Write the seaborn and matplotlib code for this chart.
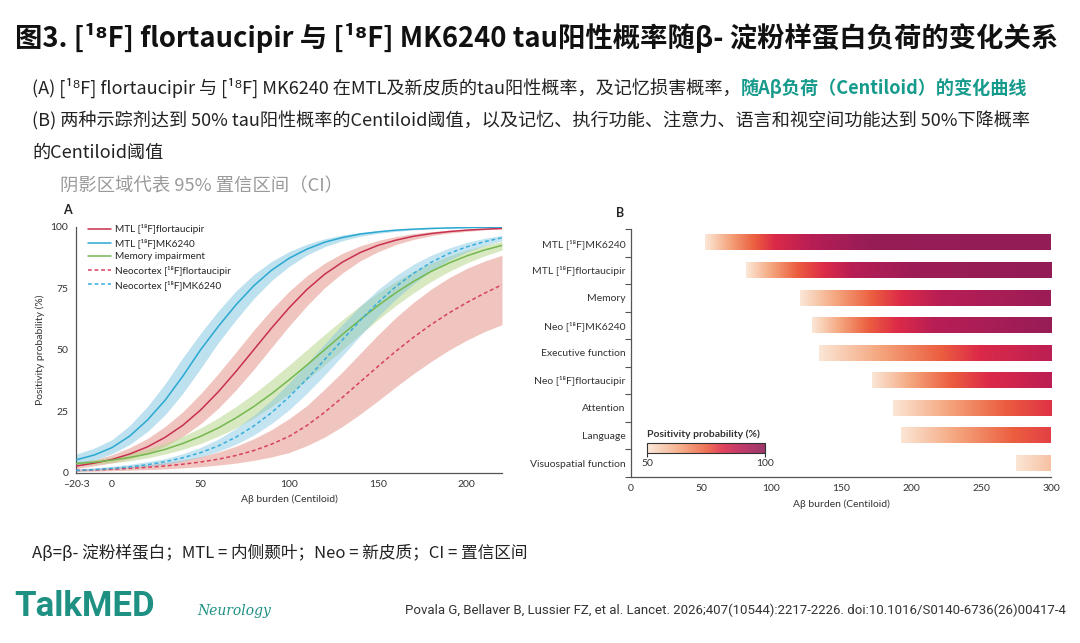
import numpy as np
import pandas as pd
import matplotlib
matplotlib.use("Agg")
import matplotlib.pyplot as plt
import seaborn as sns
from matplotlib.colors import LinearSegmentedColormap, Normalize
from matplotlib.cm import ScalarMappable

# ---------------- data: panel A ----------------
centiloid = [-20.3, -10, 0, 10, 20, 30, 40, 50, 60, 70, 80, 90, 100, 110,
             120, 130, 140, 150, 160, 170, 180, 190, 200, 210, 220]

mtl_mk_mean = [5.2, 7.2, 10.2, 14.9, 21.4, 29.5, 39.3, 50, 59.5, 68.3, 76.0, 82.3, 87.2, 90.9,
               93.7, 95.6, 97.0, 97.9, 98.6, 99.0, 99.3, 99.5, 99.65, 99.75, 99.8]
mtl_mk_hi = [7.5, 10, 13.4, 19.2, 26.9, 36.2, 46.8, 56.7, 65.8, 73.9, 80.6, 85.9, 89.9, 92.9,
             95.1, 96.6, 97.7, 98.4, 98.9, 99.2, 99.45, 99.6, 99.7, 99.8, 99.85]
mtl_mk_lo = [3.4, 5.1, 7.7, 11.5, 16.7, 23.6, 32.3, 42.4, 52.9, 62.2, 70.8, 78.1, 83.9, 88.5,
             91.9, 94.3, 96.1, 97.3, 98.1, 98.7, 99.1, 99.4, 99.55, 99.65, 99.75]

mtl_ft_mean = [2.7, 3.9, 5.4, 7.6, 10.5, 14.4, 19.3, 25.5, 32.9, 41.2, 50, 58.8, 67.1, 74.5,
               80.7, 85.6, 89.5, 92.4, 94.5, 96.1, 97.2, 98.0, 98.6, 99.0, 99.3]
mtl_ft_hi = [4.2, 5.2, 7.3, 10.2, 13.9, 18.8, 24.8, 32.1, 40.3, 49.1, 58.0, 66.3, 73.8, 80.1,
             85.2, 89.2, 92.2, 94.4, 96.0, 97.2, 98.0, 98.6, 99.0, 99.3, 99.5]
mtl_ft_lo = [1.7, 2.8, 4.0, 5.6, 7.8, 10.8, 14.8, 19.9, 26.2, 33.7, 42.0, 50.9, 59.7, 67.9,
             75.2, 81.2, 86.1, 89.8, 92.7, 94.8, 96.3, 97.4, 98.1, 98.7, 99.1]

mem_mean = [3.7, 4.3, 5.1, 6.2, 7.6, 9.5, 11.9, 14.8, 18.2, 22.3, 26.9, 32.1, 37.8, 43.8,
            50, 56.2, 62.2, 67.9, 73.1, 77.7, 81.8, 85.2, 88.1, 90.5, 92.4]
mem_hi = [4.6, 5.3, 6.3, 7.8, 9.7, 11.9, 14.8, 18.2, 22.3, 26.9, 32.1, 37.8, 43.8, 50,
          56.2, 62.2, 67.9, 73.1, 77.7, 81.8, 85.2, 88.1, 90.5, 92.4, 94.0]
mem_lo = [2.9, 3.4, 4.0, 4.8, 6.0, 7.6, 9.5, 11.9, 14.8, 18.2, 22.3, 26.9, 32.1, 37.8,
          43.8, 50, 56.2, 62.2, 67.9, 73.1, 77.7, 81.8, 85.2, 88.1, 90.5]

neo_mk_mean = [0.91, 1.27, 1.74, 2.39, 3.27, 4.46, 6.06, 8.17, 10.9, 14.5, 19.0, 24.4, 30.9, 38.1,
               46.0, 54.0, 61.9, 69.1, 75.6, 81.0, 85.5, 89.1, 91.8, 93.9, 95.5]
neo_mk_hi = [1.5, 2.0, 2.6, 3.4, 4.5, 5.7, 7.7, 10.3, 13.7, 18.0, 23.3, 29.5, 36.6, 44.4,
             52.4, 60.3, 67.7, 74.4, 80.0, 84.7, 88.4, 91.3, 93.6, 95.3, 96.5]
neo_mk_lo = [0.6, 0.9, 1.35, 1.86, 2.55, 3.48, 4.74, 6.43, 8.67, 11.6, 15.3, 20.0, 25.6, 32.3,
             39.7, 47.6, 55.6, 63.4, 70.5, 76.7, 82.0, 86.3, 89.7, 92.3, 94.3]

neo_ft_mean = [0.9, 1.1, 1.4, 1.75, 2.2, 2.75, 3.45, 4.35, 5.5, 7.0, 9.0, 11.6, 14.8, 19.2,
               24.6, 30.6, 36.9, 43.2, 49.3, 55.0, 60.2, 64.9, 69.1, 72.9, 76.4]
neo_ft_hi = [1.5, 1.8, 2.2, 2.7, 3.3, 4.1, 5.2, 6.6, 8.4, 10.8, 13.8, 17.5, 22.0, 27.3,
             34.0, 41.0, 48.5, 56.0, 63.0, 69.2, 74.6, 79.2, 83.0, 86.0, 88.4]
neo_ft_lo = [0.5, 0.6, 0.8, 1.0, 1.25, 1.55, 1.95, 2.45, 3.1, 3.9, 5.0, 6.4, 8.2, 11.0,
             14.5, 18.8, 23.8, 29.2, 34.8, 40.2, 45.2, 49.8, 53.8, 57.3, 60.2]

series_names = ["MTL [¹⁸F]flortaucipir", "MTL [¹⁸F]MK6240", "Memory impairment",
                "Neocortex [¹⁸F]flortaucipir", "Neocortex [¹⁸F]MK6240"]

# ---------------- data: panel B ----------------
b_labels = ["MTL [¹⁸F]MK6240", "MTL [¹⁸F]flortaucipir", "Memory", "Neo [¹⁸F]MK6240",
            "Executive function", "Neo [¹⁸F]flortaucipir", "Attention", "Language",
            "Visuospatial function"]
# centiloid stops along each bar and the positivity probability (%) shown there
b_stop_x = [[53, 70, 88, 102, 128, 170, 300],
            [82, 100, 118, 138, 157, 205, 300],
            [121, 147, 172, 193, 221, 300],
            [129, 149, 169, 190, 216, 300],
            [134, 178, 221, 248, 300],
            [172, 200, 228, 255, 300],
            [187, 227, 266, 300],
            [193, 233, 273, 300],
            [275, 300]]
b_stop_p = [[50, 64, 75, 82, 90, 98, 99],
            [50, 64, 75, 82, 90, 97, 99],
            [50, 64, 75, 82, 90, 97],
            [50, 64, 75, 82, 90, 98],
            [50, 64, 75, 82, 89],
            [50, 64, 75, 82, 89],
            [50, 64, 75, 81],
            [50, 64, 75, 79],
            [50, 58]]

# ---------------- style ----------------
sns.set_theme(style="white")
plt.rcParams["font.family"] = ["Lato", "Noto Sans CJK SC", "DejaVu Sans"]
CJK = ["Noto Sans CJK SC", "DejaVu Sans"]
PANEL = ["Lato", "DejaVu Sans"]

W, H = 1080, 643
fig = plt.figure(figsize=(W / 100, H / 100), dpi=100)
fig.patch.set_facecolor("white")


def fy(py):
    return 1 - py / H


def fx(px):
    return px / W


# ---------------- header text ----------------
fig.text(fx(15), fy(38), "图3. [¹⁸F] flortaucipir 与 [¹⁸F] MK6240 tau阳性概率随β- 淀粉样蛋白负荷的变化关系",
         family=CJK, fontsize=19.7, fontweight="bold", color="#111111", va="center")

t1 = fig.text(fx(32), fy(88), "(A) [¹⁸F] flortaucipir 与 [¹⁸F] MK6240 在MTL及新皮质的tau阳性概率，及记忆损害概率，",
              family=CJK, fontsize=13.05, color="#222222", va="center")
fig.canvas.draw()
bb = t1.get_window_extent(renderer=fig.canvas.get_renderer())
fig.text(bb.x1 / W, fy(88), "随Aβ负荷（Centiloid）的变化曲线",
         family=CJK, fontsize=13.05, color="#169a8b", fontweight="bold", va="center")
fig.text(fx(32), fy(121), "(B) 两种示踪剂达到 50% tau阳性概率的Centiloid阈值，以及记忆、执行功能、注意力、语言和视空间功能达到 50%下降概率",
         family=CJK, fontsize=13.05, color="#222222", va="center")
fig.text(fx(32), fy(153), "的Centiloid阈值", family=CJK, fontsize=13.05, color="#222222", va="center")
fig.text(fx(60), fy(186), "阴影区域代表 95% 置信区间（CI）", family=CJK, fontsize=13.2,
         color="#9a9a9a", va="center")

# ---------------- panel A ----------------
axA = fig.add_axes([fx(76), fy(472.7), fx(502) - fx(76), fy(226.7) - fy(472.7)])

band_specs = [
    (mtl_ft_lo, mtl_ft_hi, "#e28d80", 0.5),
    (neo_ft_lo, neo_ft_hi, "#e28d80", 0.5),
    (mem_lo, mem_hi, "#b9d68e", 0.55),
    (neo_mk_lo, neo_mk_hi, "#7cc4e0", 0.45),
    (mtl_mk_lo, mtl_mk_hi, "#7cc4e0", 0.5),
]
for lo, hi, col, al in band_specs:
    axA.fill_between(centiloid, lo, hi, color=col, alpha=al, linewidth=0, zorder=1)

means = [mtl_ft_mean, mtl_mk_mean, mem_mean, neo_ft_mean, neo_mk_mean]
df = pd.DataFrame({
    "centiloid": np.concatenate([centiloid] * len(means)),
    "prob": np.concatenate(means),
    "series": np.repeat(series_names, len(centiloid)),
})
palette = dict(zip(series_names, ["#c8304f", "#2aa8d2", "#74b84f", "#d8405f", "#38aedb"]))
dashes = dict(zip(series_names, ["", "", "", (2.5, 1.8), (2.5, 1.8)]))
sns.lineplot(data=df, x="centiloid", y="prob", hue="series", style="series",
             hue_order=series_names, style_order=series_names, palette=palette,
             dashes=dashes, linewidth=1.1, ax=axA, zorder=3)
handles, labels = axA.get_legend_handles_labels()
axA.legend(handles, labels, loc="upper left", bbox_to_anchor=(0.015, 1.035), frameon=False,
           prop={"family": PANEL, "size": 7.2}, handlelength=2.3, handletextpad=0.4,
           labelspacing=0.42, borderaxespad=0.2)

axA.set_xlim(-20.3, 220)
axA.set_ylim(0, 100)
axA.set_xticks([-20.3, 0, 50, 100, 150, 200])
axA.set_xticklabels(["–20·3", "0", "50", "100", "150", "200"])
axA.set_yticks([0, 25, 50, 75, 100])
axA.set_xlabel("Aβ burden (Centiloid)", fontsize=7.5, family=PANEL, color="#333333", labelpad=4)
axA.set_ylabel("Positivity probability (%)", fontsize=7.5, family=PANEL, color="#333333", labelpad=4)
fig.text(fx(63), fy(210), "A", fontsize=9, fontweight="bold", family=PANEL, color="#222222", va="center")

# ---------------- panel B ----------------
axB = fig.add_axes([fx(631), fy(476.8), fx(1051) - fx(631), fy(229) - fy(476.8)])
cmap = LinearSegmentedColormap.from_list(
    "pos", [(0.0, "#fbe6d5"), (0.28, "#f4a47c"), (0.5, "#ec5f3f"),
            (0.64, "#dc2a48"), (0.8, "#b81e55"), (1.0, "#8f1c57")])
norm = Normalize(vmin=50, vmax=100)
bar_h = 0.56
ramp = np.linspace(0, 1, 600)[None, :]  # image ramp that carries each bar's own gradient
for i, (xs, ps) in enumerate(zip(b_stop_x, b_stop_p)):
    x0, x1 = xs[0], xs[-1]
    stops = [((x - x0) / (x1 - x0), cmap(norm(p))) for x, p in zip(xs, ps)]
    bar_cmap = LinearSegmentedColormap.from_list(f"bar{i}", stops)
    axB.imshow(ramp, cmap=bar_cmap, aspect="auto", interpolation="bilinear",
               extent=[x0, x1, i + bar_h / 2, i - bar_h / 2], zorder=2)

axB.set_xlim(0, 300)
axB.set_ylim(8.5, -0.5)
axB.set_yticks(range(len(b_labels)))
axB.set_yticklabels(b_labels)
axB.set_yticks(np.arange(-0.5, len(b_labels), 1), minor=True)
axB.set_xticks([0, 50, 100, 150, 200, 250, 300])
axB.set_xlabel("Aβ burden (Centiloid)", fontsize=7.5, family=PANEL, color="#333333", labelpad=4)
fig.text(fx(616), fy(213), "B", fontsize=9, fontweight="bold", family=PANEL, color="#222222", va="center")

for ax in (axA, axB):
    for s in ("top", "right"):
        ax.spines[s].set_visible(False)
    for s in ("left", "bottom"):
        ax.spines[s].set_color("#555555")
        ax.spines[s].set_linewidth(0.9)
    ax.tick_params(axis="both", which="major", direction="out", length=3.5, width=0.8,
                   color="#555555", labelsize=7.5, labelcolor="#333333", pad=2)
    for lab in ax.get_xticklabels() + ax.get_yticklabels():
        lab.set_family(PANEL)
axB.tick_params(axis="y", which="major", length=0, pad=4)
axB.tick_params(axis="y", which="minor", length=4, width=0.8, color="#555555", left=True)

# colour bar legend
cax = fig.add_axes([fx(647), fy(453), fx(765) - fx(647), fy(443) - fy(453)])
cb = fig.colorbar(ScalarMappable(norm=norm, cmap=cmap), cax=cax, orientation="horizontal")
cb.solids.set_alpha(0.88)
cb.set_ticks([50, 100])
cb.outline.set_edgecolor("#333333")
cb.outline.set_linewidth(0.8)
cax.tick_params(length=3, width=0.8, color="#333333", labelsize=7.5, labelcolor="#333333", pad=1)
for lab in cax.get_xticklabels():
    lab.set_family(PANEL)
cax.set_title("Positivity probability (%)", loc="left", fontsize=7.5, fontweight="bold",
              family=PANEL, color="#333333", pad=4)

# ---------------- footer ----------------
fig.text(fx(32), fy(553), "Aβ=β- 淀粉样蛋白；MTL = 内侧颞叶；Neo = 新皮质；CI = 置信区间",
         family=CJK, fontsize=12, color="#222222", va="center")
fig.text(fx(14), fy(606), "TalkMED", family=["Roboto", "DejaVu Sans"], fontsize=25,
         fontweight="bold", color="#1f9183", va="center")
fig.text(fx(197), fy(611), "Neurology", family=["DejaVu Serif"], fontsize=10, style="italic",
         color="#1f9183", va="center")
fig.text(fx(1066), fy(610),
         "Povala G, Bellaver B, Lussier FZ, et al. Lancet. 2026;407(10544):2217-2226. doi:10.1016/S0140-6736(26)00417-4",
         family=["Liberation Sans Narrow", "Roboto", "DejaVu Sans"], fontsize=9.5,
         color="#333333", va="center", ha="right")

fig.savefig("out.png", dpi=100, facecolor="white")
